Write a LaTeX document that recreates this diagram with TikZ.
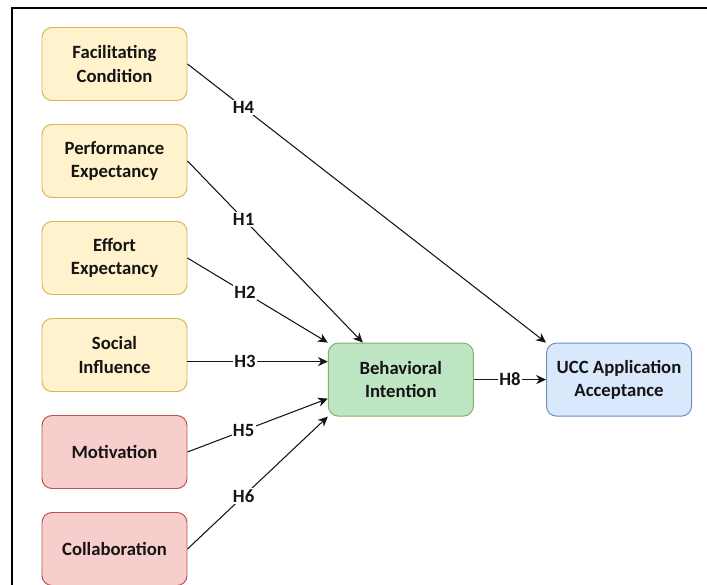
\documentclass[tikz,border=0pt]{standalone}
\usepackage{fontspec}
\setmainfont{Carlito}
\usetikzlibrary{arrows.meta}

\definecolor{yfill}{HTML}{FFF2CC}
\definecolor{ydraw}{HTML}{D6B656}
\definecolor{rfill}{HTML}{F8CECC}
\definecolor{rdraw}{HTML}{B85450}
\definecolor{gfill}{HTML}{BFE6C3}
\definecolor{gdraw}{HTML}{82B366}
\definecolor{bfill}{HTML}{DAE8FC}
\definecolor{bdraw}{HTML}{6C8EBF}
\definecolor{ink}{HTML}{141414}

\tikzset{
    factor/.style={rounded corners=0.25cm, line width=0.7pt, minimum width=3.625cm,
        minimum height=1.825cm, align=center, text=ink,
        font=\fontsize{13.3}{16.5}\selectfont\bfseries},
    yellowbox/.style={factor, fill=yfill, draw=ydraw},
    redbox/.style={factor, fill=rfill, draw=rdraw},
    greenbox/.style={factor, fill=gfill, draw=gdraw},
    bluebox/.style={factor, fill=bfill, draw=bdraw},
    hyp/.style={-{Stealth[length=7pt, width=6.5pt, inset=2.2pt]}, line width=0.75pt, draw=ink},
    hlabel/.style={fill=white, inner sep=1pt, text=ink,
        font=\fontsize{13.3}{16}\selectfont\bfseries}
}

\begin{document}
\begin{tikzpicture}
    \useasboundingbox (0, 0) rectangle (17.675, 14.6);
    \draw[line width=1.4pt] (0.3, -0.2) -- (0.3, 14.41) -- (17.9, 14.41);

    \node[yellowbox] (fc) at (2.8625, 13.0) {Facilitating\\Condition};
    \node[yellowbox] (pe) at (2.8625, 10.575) {Performance\\Expectancy};
    \node[yellowbox] (ee) at (2.8625, 8.15) {Effort\\Expectancy};
    \node[yellowbox] (si) at (2.8625, 5.725) {Social\\Influence};
    \node[redbox] (mot) at (2.8625, 3.3) {Motivation};
    \node[redbox] (col) at (2.8625, 0.875) {Collaboration};

    \node[greenbox] (bi) at (10.02, 5.11) {Behavioral\\Intention};
    \node[bluebox] (ucc) at (15.475, 5.11) {UCC Application\\Acceptance};

    \coordinate (siout) at ([yshift=-0.165cm]si.east);

    \draw[hyp] (fc.east) -- node[hlabel, pos=0.156] {H4} (ucc.north west);
    \draw[hyp] (pe.east) -- node[hlabel, pos=0.32] {H1} ([xshift=0.875cm]bi.north west);
    \draw[hyp] (ee.east) -- node[hlabel, pos=0.41] {H2} (bi.north west);
    \draw[hyp] (siout) -- node[hlabel, pos=0.41] {H3} (siout -| bi.west);
    \draw[hyp] (mot.east) -- node[hlabel, pos=0.4] {H5} ([yshift=-0.475cm]bi.west);
    \draw[hyp] (col.east) -- node[hlabel, pos=0.4] {H6} (bi.south west);
    \draw[hyp] (bi.east) -- node[hlabel] {H8} (ucc.west);
\end{tikzpicture}
\end{document}
